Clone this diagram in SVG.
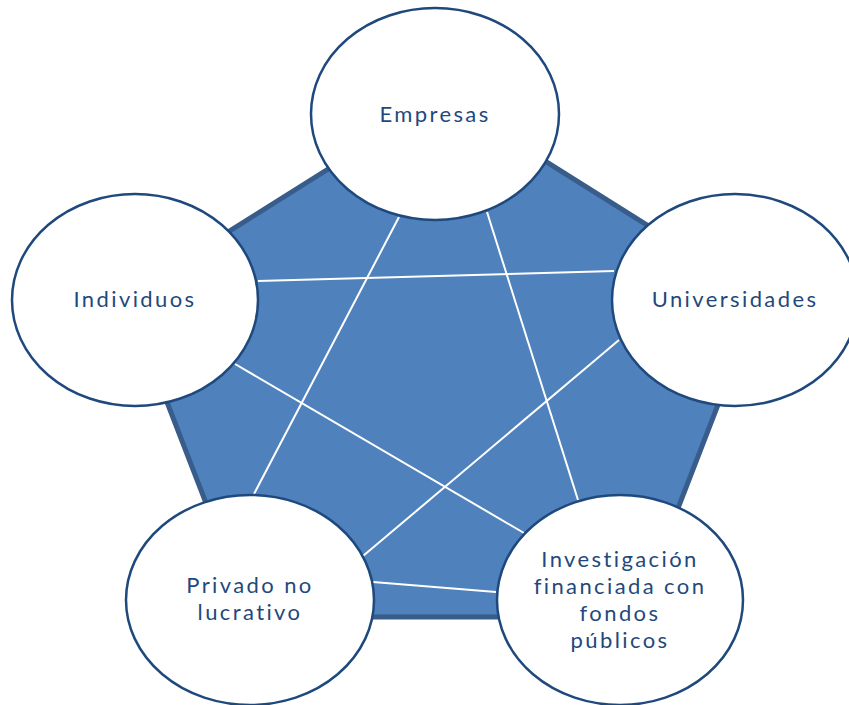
<svg xmlns="http://www.w3.org/2000/svg" width="849" height="705" viewBox="0 0 849 705">
<style>
.node ellipse{fill:#ffffff;stroke:#1F497D;stroke-width:2.5}
.node text{font-family:Lato,"Open Sans","Liberation Sans",sans-serif;font-size:22px;fill:#1F497D;text-anchor:middle;letter-spacing:2.4px}
.conn line{stroke:#ffffff;stroke-width:2}
</style>
<rect width="849" height="705" fill="#ffffff"/>
<polygon id="pentagon" points="443,97 760,296 636,617 250,617 126,296" fill="#4F81BD" stroke="#385D8A" stroke-width="5" stroke-linejoin="miter"/>
<g id="connectors" class="conn">
<line x1="258" y1="281" x2="614" y2="271"/>
<line x1="399" y1="217" x2="254" y2="494"/>
<line x1="487" y1="212" x2="578" y2="500"/>
<line x1="235" y1="364" x2="524" y2="533"/>
<line x1="619" y1="340" x2="363" y2="556"/>
<line x1="373" y1="582" x2="496" y2="592"/>
</g>
<g id="empresas" class="node">
<ellipse cx="435" cy="114" rx="124" ry="106"/>
<text x="435" y="122">Empresas</text>
</g>
<g id="individuos" class="node">
<ellipse cx="135" cy="300" rx="123" ry="106"/>
<text x="135" y="307">Individuos</text>
</g>
<g id="universidades" class="node">
<ellipse cx="735" cy="300" rx="123" ry="106"/>
<text x="735" y="307">Universidades</text>
</g>
<g id="privado" class="node">
<ellipse cx="250" cy="600" rx="124" ry="105"/>
<text x="250" y="593">Privado no</text>
<text x="250" y="620">lucrativo</text>
</g>
<g id="investigacion" class="node">
<ellipse cx="620" cy="600" rx="123" ry="105"/>
<text x="620" y="567">Investigación</text>
<text x="620" y="594">financiada con</text>
<text x="620" y="621">fondos</text>
<text x="620" y="648">públicos</text>
</g>
</svg>
